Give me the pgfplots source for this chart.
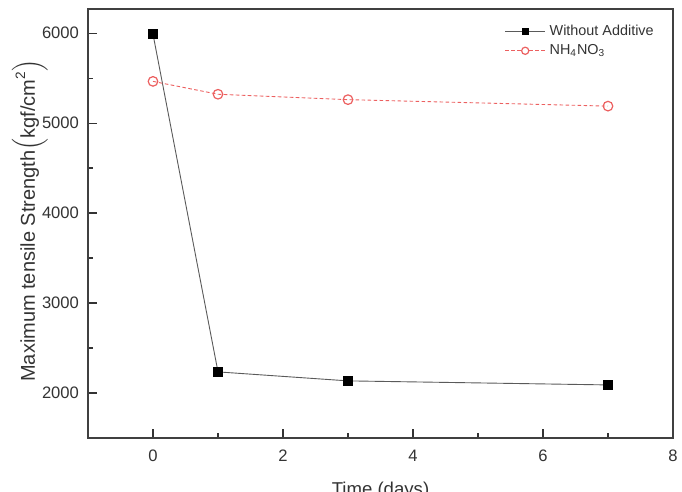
\documentclass[border=0pt]{standalone}
\usepackage{pgfplots}
\pgfplotsset{compat=1.18}
\usepackage{fontspec}
\setmainfont{Liberation Sans}
\definecolor{nhred}{RGB}{236,96,96}
\definecolor{grayline}{RGB}{90,90,90}

\begin{document}
\begin{tikzpicture}
% fixed page frame around the axis box
\useasboundingbox (-44pt,-27pt) rectangle (297pt,219pt);
\begin{axis}[
  at={(0,0)}, anchor=south west,
  scale only axis,
  width=292.5pt, height=214.5pt,
  xmin=-1, xmax=8, ymin=1500, ymax=6270,
  xtick={0,2,4,6,8},
  ytick={2000,3000,4000,5000,6000},
  minor x tick num=1, minor y tick num=1,
  tick pos=left, tick align=inside,
  major tick length=4.5pt, minor tick length=2.5pt,
  every tick/.style={line width=0.7pt, black!80},
  axis line style={line width=0.8pt, black!75},
  /pgf/number format/assume math mode=true,
  /pgf/number format/1000 sep={},
  tick label style={font=\fontsize{8.3}{9}\selectfont, text=black!80},
  xticklabel style={yshift=-2.5pt},
  yticklabel style={xshift=-1pt},
  xlabel={Time (days)},
  xlabel style={font=\fontsize{9.3}{11}\selectfont, text=black!80,
    at={(axis description cs:0.5,-0.133)}, anchor=base},
  ylabel={Maximum tensile Strength$\left(\mbox{kgf/cm}^{\mbox{\fontsize{6.8}{7}\selectfont 2}}\right)$},
  ylabel style={font=\fontsize{10}{12}\selectfont, text=black!80,
    at={(axis description cs:-0.091,0.507)}, anchor=base},
  legend style={draw=none, fill=none, at={(0.978,0.978)}, anchor=north east,
    font=\fontsize{7.2}{8.5}\selectfont, row sep=-1pt, text=black!80,
    inner sep=1pt},
  legend cell align=left,
]
\addplot[grayline, line width=0.45pt, mark=square*,
  mark options={solid, fill=black, draw=black, line width=0.3pt}, mark size=2.3pt,
  legend image code/.code={
    \draw[grayline, line width=0.45pt] (0pt,0pt) -- (20pt,0pt);
    \draw[fill=black, draw=black, line width=0.3pt] (8.5pt,-1.5pt) rectangle (11.5pt,1.5pt);
  }]
  coordinates {(0,5990) (1,2235) (3,2135) (7,2090)};
\addlegendentry{Without Additive}
\addplot[nhred, line width=0.45pt, dash pattern=on 1.8pt off 1.2pt, mark=o,
  mark options={solid, draw=nhred, fill=white, line width=0.6pt}, mark size=2.4pt,
  legend image code/.code={
    \draw[nhred, line width=0.45pt, dash pattern=on 1.8pt off 1.2pt] (0pt,0pt) -- (20pt,0pt);
    \draw[solid, nhred, fill=white, line width=0.6pt] (10pt,0pt) circle (1.8pt);
  }]
  coordinates {(0,5465) (1,5322) (3,5262) (7,5190)};
\addlegendentry{NH\textsubscript{4}NO\textsubscript{3}}
\end{axis}
\end{tikzpicture}
\end{document}
